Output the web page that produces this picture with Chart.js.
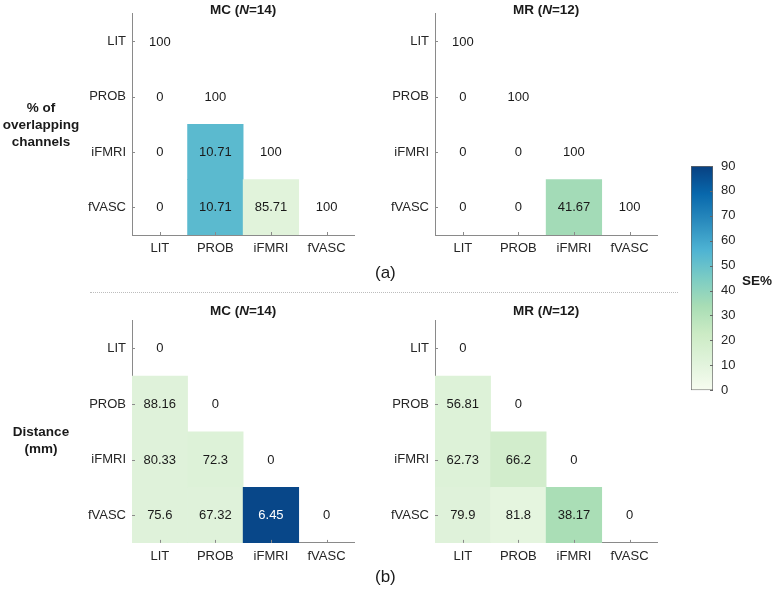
<!DOCTYPE html>
<html>
<head>
<meta charset="utf-8">
<script src="https://cdn.jsdelivr.net/npm/chart.js@4.4.1/dist/chart.umd.min.js"></script>
<style>
  body { margin: 0; width: 774px; height: 591px; position: relative; overflow: hidden; background: #fff;
         font-family: 'Liberation Sans', Arial, sans-serif; color: #1a1a1a; }
  canvas { position: absolute; }
  .rowlbl { position: absolute; width: 90px; text-align: center; font-weight: bold; font-size: 13.5px; line-height: 17px; }
  .tag { position: absolute; font-size: 17px; }
  .sep { position: absolute; left: 90px; top: 292px; width: 588px; border-top: 1px dotted #bdbdbd; }
</style>
</head>
<body>
<canvas id="mcA"></canvas>
<canvas id="mrA"></canvas>
<canvas id="mcB"></canvas>
<canvas id="mrB"></canvas>
<canvas id="cbar"></canvas>

<div class="rowlbl" style="left:-4px;top:99px">% of<br>overlapping<br>channels</div>
<div class="rowlbl" style="left:-4px;top:423px">Distance<br>(mm)</div>
<div class="tag" style="left:375px;top:263px">(a)</div>
<div class="tag" style="left:375px;top:567px">(b)</div>
<div class="sep"></div>
<div class="rowlbl" style="left:742px;top:272px;width:auto">SE%</div>

<script>
const cats = ['LIT', 'PROB', 'iFMRI', 'fVASC'];

// (a) % of overlapping channels, lower triangle, row = y category
const mcOverlap   = [[100], [0, 100], [0, 10.71, 100], [0, 10.71, 85.71, 100]];
const mcOverlapSE = [[null], [null, null], [null, 53, null], [null, 53, 11, null]];
const mrOverlap   = [[100], [0, 100], [0, 0, 100], [0, 0, 41.67, 100]];
const mrOverlapSE = [[null], [null, null], [null, null, null], [null, null, 35, null]];

// (b) distance (mm)
const mcDist   = [[0], [88.16, 0], [80.33, 72.3, 0], [75.6, 67.32, 6.45, 0]];
const mcDistSE = [[null], [12, null], [12, 13, null], [12, 12, 88, null]];
const mrDist   = [[0], [56.81, 0], [62.73, 66.2, 0], [79.9, 81.8, 38.17, 0]];
const mrDistSE = [[null], [13, null], [13, 19, null], [12, 9, 33, null]];

const seRange = [0, 90];
const seTicks = [0, 10, 20, 30, 40, 50, 60, 70, 80, 90];

// GnBu colormap
const gnbuStops = ['#f7fcf0', '#e0f3db', '#ccebc5', '#a8ddb5', '#7bccc4', '#4eb3d3', '#2b8cbe', '#0868ac', '#084081'];
function hex(h) { return [1, 3, 5].map(i => parseInt(h.substr(i, 2), 16)); }
function gnbu(t) {
  t = Math.max(0, Math.min(1, t));
  const p = t * (gnbuStops.length - 1), i = Math.min(Math.floor(p), gnbuStops.length - 2), f = p - i;
  const a = hex(gnbuStops[i]), b = hex(gnbuStops[i + 1]);
  return 'rgb(' + a.map((v, k) => Math.round(v + (b[k] - v) * f)).join(',') + ')';
}

const FONT = "'Liberation Sans', Arial, sans-serif";
Chart.defaults.font.family = FONT;
Chart.defaults.font.size = 13;
Chart.defaults.color = '#262626';

const AXIS = '#8a8a8a';
const AX = 222.3, YW = 60, XH = 30, CW = 303;

const cellText = {
  id: 'cellText',
  afterDatasetsDraw(chart, args, o) {
    const { ctx, chartArea: a, scales: { x, y } } = chart;
    ctx.save();
    ctx.font = '13px ' + FONT;
    ctx.textAlign = 'center';
    ctx.textBaseline = 'middle';
    o.vals.forEach((row, r) => row.forEach((v, c) => {
      const s = o.se[r][c];
      ctx.fillStyle = s != null && s > 60 ? '#ffffff' : '#1a1a1a';
      ctx.fillText(String(v), x.getPixelForValue(c), y.getPixelForValue(r) + 0.5);
    }));
    // inward tick marks
    ctx.strokeStyle = AXIS;
    ctx.lineWidth = 1;
    ctx.beginPath();
    cats.forEach((_, i) => {
      const py = Math.round(y.getPixelForValue(i)) + 0.5;
      ctx.moveTo(a.left, py); ctx.lineTo(a.left + 3, py);
      const px = Math.round(x.getPixelForValue(i)) + 0.5;
      ctx.moveTo(px, a.bottom); ctx.lineTo(px, a.bottom - 3);
    });
    ctx.stroke();
    // title: "MC (N=14)" with italic N
    const parts = [[o.group + ' (', 'bold'], ['N', 'italic bold'], ['=' + o.n + ')', 'bold']];
    let w = 0;
    parts.forEach(p => { ctx.font = p[1] + ' 13.5px ' + FONT; w += ctx.measureText(p[0]).width; });
    let tx = (a.left + a.right) / 2 - w / 2;
    ctx.textAlign = 'left';
    ctx.fillStyle = '#1a1a1a';
    parts.forEach(p => {
      ctx.font = p[1] + ' 13.5px ' + FONT;
      ctx.fillText(p[0], tx, a.top - o.titleOff);
      tx += ctx.measureText(p[0]).width;
    });
    ctx.restore();
  }
};

function panel(id, group, n, vals, se, axLeft, axTop, canvasTop, titleOff) {
  const cv = document.getElementById(id);
  const padTop = axTop - canvasTop;
  const h = Math.ceil(padTop + AX + XH);
  cv.width = CW; cv.height = h;
  cv.style.left = (axLeft - YW) + 'px';
  cv.style.top = canvasTop + 'px';

  const pts = [], cols = [];
  vals.forEach((row, r) => row.forEach((v, c) => {
    if (se[r][c] != null) {
      pts.push({ x: cats[c], y: [r - 0.5, r + 0.5] });
      cols.push(gnbu(se[r][c] / seRange[1]));
    }
  }));

  new Chart(cv, {
    type: 'bar',
    data: {
      labels: cats,
      datasets: [{ data: pts, backgroundColor: cols, borderWidth: 0, borderSkipped: false,
                   barPercentage: 1, categoryPercentage: 1 }]
    },
    options: {
      responsive: false,
      animation: false,
      events: [],
      layout: { padding: { top: padTop, right: CW - YW - AX, bottom: h - padTop - AX - XH, left: 0 } },
      plugins: { legend: { display: false }, tooltip: { enabled: false },
                 cellText: { vals, se, group, n, titleOff } },
      scales: {
        x: {
          type: 'category',
          offset: true,
          grid: { display: false, drawTicks: false },
          border: { display: true, color: AXIS, width: 1 },
          ticks: { padding: 6, maxRotation: 0, autoSkip: false },
          afterFit: s => { s.height = XH; }
        },
        y: {
          type: 'linear',
          reverse: true,
          min: -0.5, max: 3.5,
          grid: { display: false, drawTicks: false },
          border: { display: true, color: AXIS, width: 1 },
          afterBuildTicks: s => { s.ticks = cats.map((_, i) => ({ value: i })); },
          ticks: { padding: 6, callback: v => cats[v] },
          afterFit: s => { s.width = YW; }
        }
      }
    },
    plugins: [cellText]
  });
}

panel('mcA', 'MC', 14, mcOverlap, mcOverlapSE, 132, 12.7, 0, 3.7);
panel('mrA', 'MR', 12, mrOverlap, mrOverlapSE, 435, 12.7, 0, 3.7);
panel('mcB', 'MC', 14, mcDist, mcDistSE, 132, 320.6, 300, 9);
panel('mrB', 'MR', 12, mrDist, mrDistSE, 435, 320.6, 300, 9);

// colour bar
const cbTicks = {
  id: 'cbTicks',
  afterDraw(chart) {
    const { ctx, chartArea: a, scales: { y } } = chart;
    ctx.save();
    ctx.strokeStyle = '#666';
    ctx.lineWidth = 1;
    ctx.beginPath();
    seTicks.forEach(t => {
      const py = Math.round(y.getPixelForValue(t)) + 0.5;
      ctx.moveTo(a.right, py); ctx.lineTo(a.right - 3, py);
    });
    ctx.stroke();
    ctx.restore();
  }
};

const cb = document.getElementById('cbar');
cb.width = 83; cb.height = 256;
cb.style.left = '691px'; cb.style.top = '150px';
new Chart(cb, {
  type: 'bar',
  data: {
    labels: ['SE%'],
    datasets: [{
      data: [[seRange[0], seRange[1]]],
      backgroundColor: c => {
        const ch = c.chart;
        if (!ch.chartArea) return gnbu(0.5);
        const y = ch.scales.y;
        const g = ch.ctx.createLinearGradient(0, y.getPixelForValue(seRange[0]), 0, y.getPixelForValue(seRange[1]));
        gnbuStops.forEach((s, i) => g.addColorStop(i / (gnbuStops.length - 1), s));
        return g;
      },
      borderColor: '#666',
      borderWidth: 1,
      borderSkipped: false,
      barPercentage: 1,
      categoryPercentage: 1
    }]
  },
  options: {
    responsive: false,
    animation: false,
    events: [],
    layout: { padding: { top: 16, bottom: 0, left: 0, right: 0 } },
    plugins: { legend: { display: false }, tooltip: { enabled: false } },
    scales: {
      x: { display: false, offset: true },
      y: {
        position: 'right',
        min: seRange[0], max: seRange[1],
        grid: { display: false, drawTicks: false },
        border: { display: false },
        afterBuildTicks: s => { s.ticks = seTicks.map(v => ({ value: v })); },
        ticks: { padding: 8 },
        afterFit: s => { s.width = 61; }
      }
    }
  },
  plugins: [cbTicks]
});
</script>
</body>
</html>
